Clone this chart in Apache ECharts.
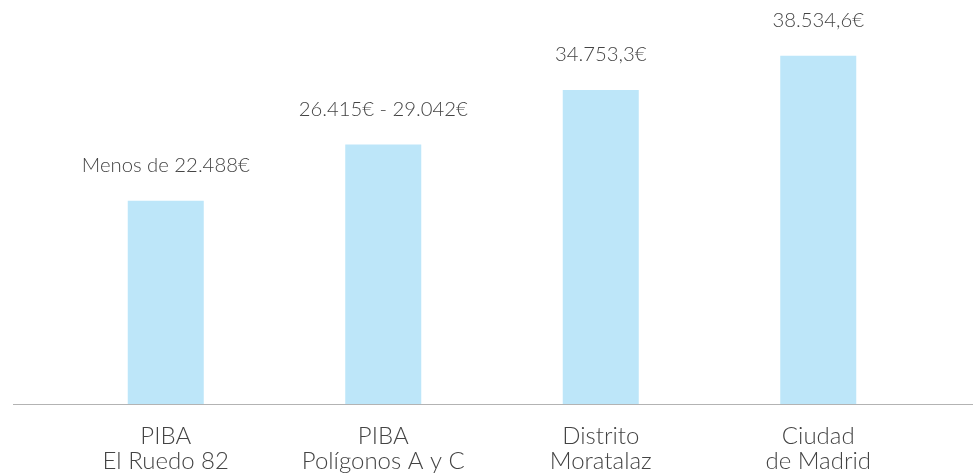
<!DOCTYPE html>
<html>
<head>
<meta charset="utf-8">
<script src="https://cdn.jsdelivr.net/npm/echarts@6/dist/echarts.min.js"></script>
<style>
  html, body { margin: 0; padding: 0; background: #fff; }
  #chart { width: 974px; height: 474px; }
</style>
</head>
<body>
<div id="chart"></div>
<script>
// datos
const categories = ['PIBA\nEl Ruedo 82', 'PIBA\nPolígonos A y C', 'Distrito\nMoratalaz', 'Ciudad\nde Madrid']
const values = [22488, 28700, 34753.3, 38534.6]
const valueLabels = ['Menos de 22.488€', '26.415€ - 29.042€', '34.753,3€', '38.534,6€']

const chart = echarts.init(document.getElementById('chart'))

const option = {
  animation: false,
  grid: {
    top: 0,
    bottom: 70,
    left: 57,
    right: 47
  },
  xAxis: {
    type: 'category',
    data: categories,
    axisLine: { show: false },
    axisTick: { show: false },
    axisLabel: {
      margin: 20,
      fontFamily: 'Lato',
      fontWeight: 300,
      fontSize: 24,
      lineHeight: 25,
      color: '#444'
    }
  },
  yAxis: {
    type: 'value',
    min: 0,
    max: 44700,
    show: false,
    splitLine: { show: false }
  },
  series: [
    {
      type: 'bar',
      data: values,
      barWidth: 76,
      itemStyle: { color: '#bde6f9' },
      label: {
        show: true,
        position: 'top',
        distance: 25,
        fontFamily: 'Lato',
        fontWeight: 300,
        fontSize: 20.3,
        color: '#444',
        formatter: (p) => valueLabels[p.dataIndex]
      }
    }
  ]
}
chart.setOption(option)

// línea base a lo ancho
const baseY = Math.round(chart.convertToPixel({ yAxisIndex: 0 }, 0)) + 0.5
chart.setOption({
  graphic: [
    {
      type: 'line',
      shape: { x1: 13, y1: baseY, x2: 973, y2: baseY },
      style: { stroke: '#b3b3b3', lineWidth: 1 }
    }
  ]
})
</script>
</body>
</html>
